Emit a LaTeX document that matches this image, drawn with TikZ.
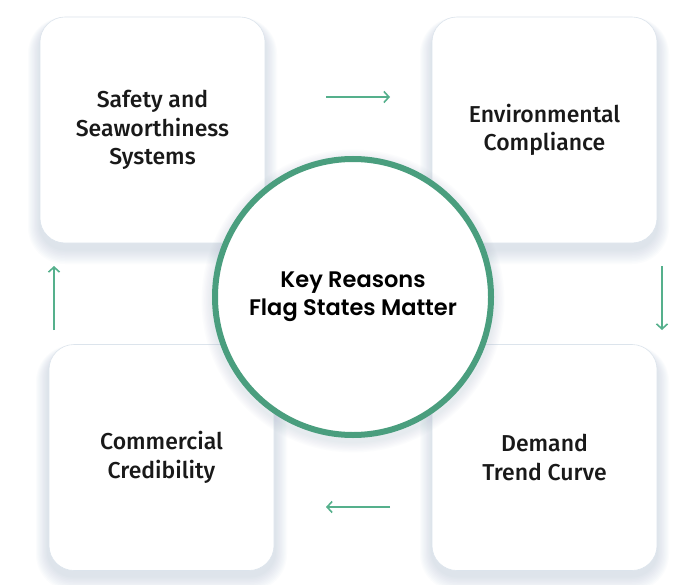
\documentclass[tikz,border=0pt]{standalone}
\usepackage{fontspec}
\usetikzlibrary{arrows.meta}
\newfontfamily\boxfont{Fira Sans Medium}
\newfontfamily\centerfont{Poppins SemiBold}
\definecolor{ringgreen}{HTML}{4A9E7E}
\definecolor{arrowgreen}{HTML}{55B08C}
\definecolor{shadowblue}{HTML}{9FB4C8}
\definecolor{edgegray}{HTML}{DCE4EC}
\tikzset{
  card/.style={draw=edgegray, line width=0.6pt, fill=white, rounded corners=25pt,
    minimum width=225pt, minimum height=226pt, align=center, text=black!90,
    font={\boxfont\fontsize{23}{28.5}\selectfont}, inner sep=0pt},
  ring/.style={circle, draw=ringgreen, line width=6pt, fill=white,
    minimum size=276pt, align=center, inner sep=0pt,
    font={\centerfont\fontsize{22.5}{28}\selectfont}},
  flow/.style={draw=arrowgreen, line width=1.6pt, -{Straight Barb[length=5pt,width=11pt,line width=1.6pt]}}
}
\newcommand{\softshadow}[5]{%
  \foreach \k in {1,...,10}{%
    \fill[shadowblue, opacity=0.035, rounded corners={#5+\k*1.2pt}]
      ({#1-\k*1.2},{#2-\k*0.6+6}) rectangle ({#3+\k*1.2},{#4+\k*1.5+6});
  }%
}
\begin{document}
\begin{tikzpicture}[x=1pt,y=-1pt]
\useasboundingbox[fill=white] (0,0) rectangle (687,585);
% shadows
\softshadow{40}{17}{265}{243}{25pt}
\softshadow{432}{17}{657}{243}{25pt}
\softshadow{48}{345}{275}{570}{25pt}
\softshadow{432}{345}{657}{570}{25pt}
% cards
\node[card] (safety) at (152.5,130) {Safety and\\Seaworthiness\\Systems};
\node[card] (env) at (544.5,130) {Environmental\\Compliance};
\node[card] (comm) at (161.5,457.5) {Commercial\\Credibility};
\node[card] (demand) at (544.5,457.5) {Demand\\Trend Curve};
% circle shadow
\foreach \k in {1,...,8}{
  \fill[shadowblue, opacity=0.03] (353,301) circle ({141+\k*1.3});
}
\node[ring] (core) at (353,297) {Key Reasons\\Flag States Matter};
% arrows
\coordinate (a1s) at (326,97);  \coordinate (a1e) at (390,97);
\coordinate (a2s) at (662,266); \coordinate (a2e) at (662,330);
\coordinate (a3s) at (390,507); \coordinate (a3e) at (326,507);
\coordinate (a4s) at (54,330);  \coordinate (a4e) at (54,266);
\draw[flow] (a1s) -- (a1e);
\draw[flow] (a2s) -- (a2e);
\draw[flow] (a3s) -- (a3e);
\draw[flow] (a4s) -- (a4e);
\end{tikzpicture}
\end{document}
